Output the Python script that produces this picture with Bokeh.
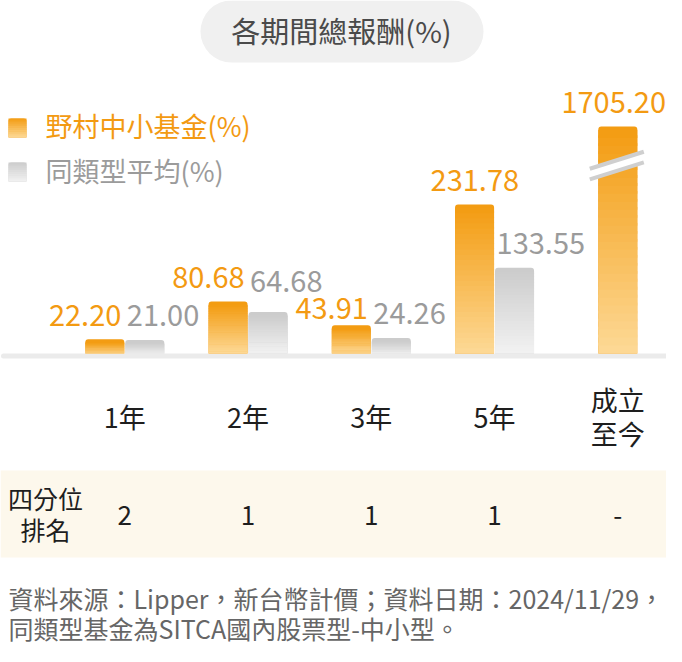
import numpy as np
from bokeh.plotting import figure
from bokeh.models import Range1d, VBar
from bokeh.core.properties import value
from bokeh.embed import file_html
from bokeh.resources import INLINE

# ---------------- data ----------------
categories = ["1年", "2年", "3年", "5年", "成立\n至今"]
fund_values = [22.20, 80.68, 43.91, 231.78, 1705.20]
peer_values = [21.00, 64.68, 24.26, 133.55, None]
quartile_rank = ["2", "1", "1", "1", "-"]
fund_name = "野村中小基金(%)"
peer_name = "同類型平均(%)"
title_text = "各期間總報酬(%)"
rank_header = "四分位\n排名"
footnote_lines = [
    "資料來源：Lipper，新台幣計價；資料日期：2024/11/29，",
    "同類型基金為SITCA國內股票型-中小型。",
]
axis_break_cap = 353  # bars above this value are drawn broken at this height

# ---------------- layout helpers (picture pixel -> data) ----------------
W, H = 666, 646
CAT_PX = 123.25          # pixels per category
FIRST_PX = 124.3         # x of first category centre
PPU = 0.643              # pixels per value unit
BASE_PY = 353.0          # y of value 0

def X(px):
    return (px - FIRST_PX) / CAT_PX

def Y(py):
    return (BASE_PY - py) / PPU

def PXx(x):
    return FIRST_PX + x * CAT_PX

def PXy(y):
    return BASE_PY - y * PPU

def dX(px):
    return px / CAT_PX

def dY(px):
    return px / PPU

FONT = value("Noto Sans CJK TC")
ORANGE_TXT = "#f39a12"
GRAY_TXT = "#9b9b9b"
OR_TOP, OR_BOT = (243, 156, 18), (253, 217, 150)
GR_TOP, GR_BOT = (204, 204, 204), (242, 242, 242)
VAL_FS = 29

p = figure(width=W, height=H, x_range=Range1d(X(0), X(W)),
           y_range=Range1d(Y(H), Y(0)), toolbar_location=None,
           output_backend="svg", min_border=0, x_axis_location=None,
           y_axis_location=None)
p.grid.visible = False
p.outline_line_color = None
p.background_fill_color = "white"
p.border_fill_color = "white"

HAS_RADIUS = "border_radius" in VBar.properties()


def hexc(c):
    return "#%02x%02x%02x" % tuple(int(round(v)) for v in c)


def mix(c_bot, c_top, t):
    return hexc([b + (a - b) * t for a, b in zip(c_top, c_bot)])


def gradient_quads(lefts, rights, bottoms, tops, c_top, c_bot, n=28, radius_px=3.5):
    L, R, B, T, C = [], [], [], [], []
    for l, r, b, t in zip(lefts, rights, bottoms, tops):
        body_top = t - dY(radius_px)
        for j in range(n):
            sb = b + (body_top - b) * j / n
            st = b + (body_top - b) * (j + 1.35) / n
            st = min(st, body_top)
            L.append(l); R.append(r); B.append(sb); T.append(st)
            C.append(mix(c_bot, c_top, (j + 0.5) / n))
    kw = dict(border_radius=(3, 3, 0, 0)) if HAS_RADIUS else {}
    xs = [(l + r) / 2 for l, r in zip(lefts, rights)]
    ws = [r - l for l, r in zip(lefts, rights)]
    p.vbar(x=xs, width=ws[0] if ws else 0, bottom=bottoms, top=tops,
           fill_color=hexc(c_top), line_color=None, **kw)
    p.quad(left=L, right=R, bottom=B, top=T, fill_color=C, line_color=None)

# ---------------- title pill ----------------
p.line(x=[X(231), X(452)], y=[Y(31), Y(31)], line_width=62, line_cap="round",
       line_color="#f0f0f0")
p.text(x=[X(341)], y=[Y(29)], text=[title_text], text_font=FONT,
       text_font_size=value("29px"), text_color="#4a4a4a",
       text_align="center", text_baseline="middle")

# ---------------- legend ----------------
gradient_quads([X(8)], [X(26)], [Y(137)], [Y(118)], OR_TOP, OR_BOT, n=10, radius_px=0.01)
gradient_quads([X(8)], [X(26)], [Y(181)], [Y(162)], GR_TOP, GR_BOT, n=10, radius_px=0.01)
p.text(x=[X(45)], y=[Y(125)], text=[fund_name], text_font=FONT,
       text_font_size=value("27px"), text_color=ORANGE_TXT,
       text_align="left", text_baseline="middle")
p.text(x=[X(45)], y=[Y(170)], text=[peer_name], text_font=FONT,
       text_font_size=value("27px"), text_color=GRAY_TXT,
       text_align="left", text_baseline="middle")

# ---------------- baseline ----------------
p.line(x=[X(3), X(669)], y=[Y(355.5), Y(355.5)], line_width=5, line_cap="round",
       line_color="#ebebeb")

# ---------------- bars ----------------
idx = np.arange(len(categories), dtype=float)
has_peer = [v is not None for v in peer_values]
bar_w = dX(39)
fund_disp = [min(v, axis_break_cap) for v in fund_values]
fund_x = [i - dX(20) if hp else i for i, hp in zip(idx, has_peer)]
peer_i = [i for i, hp in zip(idx, has_peer) if hp]
peer_v = [v for v in peer_values if v is not None]
peer_x = [i + dX(20) for i in peer_i]

gradient_quads([x - bar_w / 2 for x in fund_x], [x + bar_w / 2 for x in fund_x],
               [0] * len(fund_x), fund_disp, OR_TOP, OR_BOT)
gradient_quads([x - bar_w / 2 for x in peer_x], [x + bar_w / 2 for x in peer_x],
               [0] * len(peer_x), peer_v, GR_TOP, GR_BOT)

# ---------------- axis break marks ----------------
for x, v, d in zip(fund_x, fund_values, fund_disp):
    if v > axis_break_cap:
        bc = d - dY(39)
        ul = (x + dX(-28), bc - dY(3.2)); ur = (x + dX(26), bc + dY(13.8))
        ll = (x + dX(-28), bc - dY(13.8)); lr = (x + dX(26), bc + dY(3.2))
        p.patch(x=[ul[0], ur[0], lr[0], ll[0]], y=[ul[1], ur[1], lr[1], ll[1]],
                fill_color="white", line_color=None)
        p.line(x=[ul[0], ur[0]], y=[ul[1], ur[1]], line_width=4, line_color="#cfcfcf")
        p.line(x=[ll[0], lr[0]], y=[ll[1], lr[1]], line_width=4, line_color="#cfcfcf")

# ---------------- value labels (with simple collision avoidance) ----------------
def text_w(s):
    return sum(0.26 if ch == "." else 0.555 for ch in s) * VAL_FS

GAP_PX = 24      # offset between bar top and label anchor
labels = []
for i, (fv, fd, pv, fx) in enumerate(zip(fund_values, fund_disp, peer_values, fund_x)):
    s = "%.2f" % fv
    w = text_w(s)
    by = PXy(fd) - GAP_PX
    if pv is not None and abs(fd - pv) * PPU < 30:
        right = PXx(idx[i]) - 4
    else:
        right = min(PXx(fx) + w / 2, W - 1)
    labels.append(dict(s=s, l=right - w, r=right, y=by, c=ORANGE_TXT))
for i, pv in zip(peer_i, peer_v):
    s = "%.2f" % pv
    w = text_w(s)
    left = PXx(i) + 2
    labels.append(dict(s=s, l=left, r=left + w, y=PXy(pv) - GAP_PX, c=GRAY_TXT))

MIN_SEP = 27
for a in range(len(labels)):
    for b in range(a + 1, len(labels)):
        A, B = labels[a], labels[b]
        if A["l"] < B["r"] and B["l"] < A["r"] and abs(A["y"] - B["y"]) < MIN_SEP:
            push = (MIN_SEP - abs(A["y"] - B["y"])) / 2
            up, down = (A, B) if A["y"] < B["y"] else (B, A)
            up["y"] -= push
            down["y"] += push

for col in (ORANGE_TXT, GRAY_TXT):
    sel = [lb for lb in labels if lb["c"] == col]
    p.text(x=[X(lb["l"]) for lb in sel], y=[Y(lb["y"]) for lb in sel],
           text=[lb["s"] for lb in sel], text_color=col, text_align="left",
           text_font=FONT, text_font_size=value("%dpx" % VAL_FS),
           text_baseline="alphabetic")

# ---------------- category labels ----------------
p.text(x=list(idx), y=[Y(416)] * len(idx), text=categories, text_font=FONT,
       text_font_size=value("27px"), text_color="#1e1e1e", text_align="center",
       text_baseline="middle", text_line_height=0.86)

# ---------------- quartile table ----------------
p.quad(left=[X(0)], right=[X(690)], bottom=[Y(557)], top=[Y(470)],
       fill_color="#fdf8ec", line_color=None)
p.text(x=[X(45)], y=[Y(513)], text=[rank_header], text_font=FONT,
       text_font_size=value("25px"), text_color="#1e1e1e", text_align="center",
       text_baseline="middle", text_line_height=0.86)
p.text(x=list(idx), y=[Y(515)] * len(idx), text=quartile_rank, text_font=FONT,
       text_font_size=value("26px"), text_color="#1e1e1e", text_align="center",
       text_baseline="middle")

# ---------------- footnote ----------------
p.text(x=[X(8), X(8)], y=[Y(597), Y(627)], text=footnote_lines, text_font=FONT,
       text_font_size=value("25px"), text_color="#666666", text_align="left",
       text_baseline="middle")

open("out.html", "w").write(file_html(p, INLINE))
